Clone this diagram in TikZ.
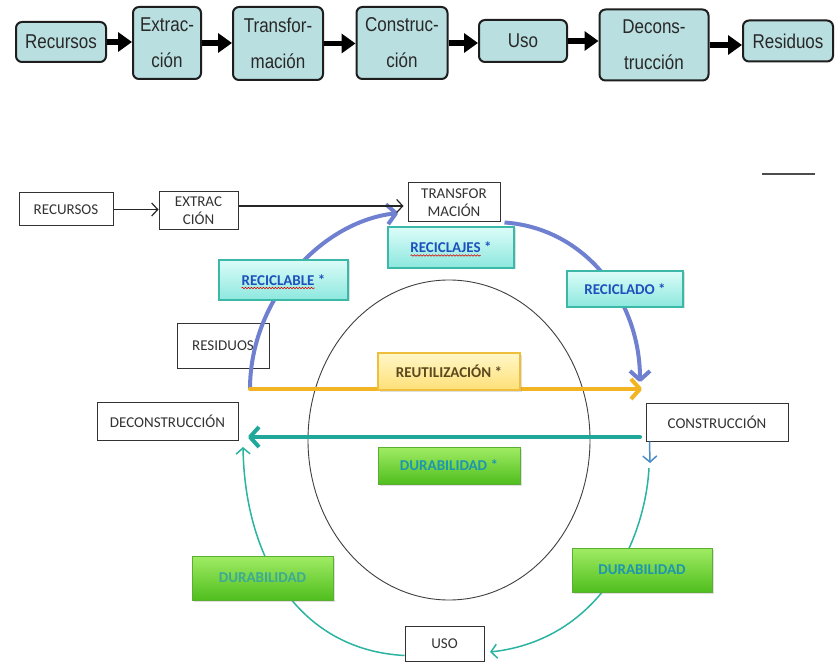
\documentclass[tikz,border=0pt]{standalone}
\usepackage{fontspec}
\setmainfont{Carlito}
\newfontfamily\topfont[FakeStretch=0.85]{Liberation Sans}
\usetikzlibrary{arrows.meta,shadows,decorations.pathmorphing}
\definecolor{topfill}{RGB}{186,223,224}
\definecolor{topline}{RGB}{30,30,30}
\definecolor{toptext}{RGB}{40,40,40}
\definecolor{cyantop}{RGB}{220,252,248}
\definecolor{cyanbot}{RGB}{140,232,222}
\definecolor{cyanline}{RGB}{60,184,168}
\definecolor{recblue}{RGB}{30,80,190}
\definecolor{greentop}{RGB}{160,236,100}
\definecolor{greenbot}{RGB}{80,190,30}
\definecolor{greenline}{RGB}{90,175,50}
\definecolor{yeltop}{RGB}{255,247,200}
\definecolor{yelbot}{RGB}{255,224,120}
\definecolor{yelline}{RGB}{238,190,60}
\definecolor{yeltext}{RGB}{90,72,30}
\definecolor{bluearc}{RGB}{112,128,208}
\definecolor{orangeln}{RGB}{242,180,34}
\definecolor{tealln}{RGB}{31,168,154}
\definecolor{thinteal}{RGB}{43,181,160}
\definecolor{midblue}{RGB}{74,140,200}
\definecolor{durtext}{RGB}{30,150,175}
\definecolor{durfade}{RGB}{60,170,150}
\begin{document}
\begin{tikzpicture}[x=1pt,y=-1pt,
  sz/.style 2 args={minimum width=#1pt,minimum height=#2pt},
  topbox/.style={draw=topline,line width=2pt,rounded corners=6pt,fill=topfill,
    inner sep=0pt,align=center,text=toptext,font=\topfont\fontsize{20}{36}\selectfont},
  toparrow/.style={line width=5.5pt,-{Triangle[length=14pt,width=19pt]}},
  plainbox/.style={draw=black!80,line width=1pt,inner sep=0pt,align=center,
    text=black!80,font=\fontsize{15}{18}\selectfont},
  shadowed/.style={drop shadow={opacity=0.25,shadow xshift=1.5pt,shadow yshift=-1.5pt}},
  cyanbox/.style={draw=cyanline,line width=1.5pt,top color=cyantop,bottom color=cyanbot,
    inner sep=0pt,text=recblue,font=\bfseries\fontsize{15}{18}\selectfont,shadowed},
  greenbox/.style={draw=greenline,line width=1pt,top color=greentop,bottom color=greenbot,
    inner sep=0pt,text=durtext,font=\bfseries\fontsize{15}{18}\selectfont,shadowed},
  yellowbox/.style={draw=yelline,line width=1.5pt,top color=yeltop,bottom color=yelbot,
    inner sep=0pt,text=yeltext,font=\bfseries\fontsize{15}{18}\selectfont,shadowed},
  thinarrow/.style={line width=1.2pt,draw=black!85,-{Straight Barb[length=6pt,width=13pt]}},
  thickarrow/.style={line width=4pt,line cap=round,-{Straight Barb[length=9pt,width=20pt,line join=round]}},
  tealarrow/.style={line width=1.5pt,draw=thinteal,-{Straight Barb[length=6pt,width=14pt]}},
  wavy/.style={draw=red!85!black,line width=0.6pt,decorate,
    decoration={snake,segment length=3pt,amplitude=0.7pt}}
]
\useasboundingbox (0,0) rectangle (836,663);
\fill[white] (0,0) rectangle (836,663);

% ---------- top row ----------
\node[topbox,sz={90}{40}] (t1) at (61,42) {Recursos};
\node[topbox,sz={68}{72}] (t2) at (167,43) {Extrac-\\ción};
\node[topbox,sz={90}{73}] (t3) at (278,43.5) {Transfor-\\mación};
\node[topbox,sz={91}{72}] (t4) at (402,43) {Construc-\\ción};
\node[topbox,sz={88}{42}] (t5) at (523,41) {Uso};
\node[topbox,sz={109}{71}] (t6) at (654,45) {Decons-\\trucción};
\node[topbox,sz={90}{41}] (t7) at (788,41) {Residuos};
\draw[toparrow] (t1.east) -- (t1.east -| t2.west);
\draw[toparrow] (t2.east) -- (t2.east -| t3.west);
\draw[toparrow] (t3.east) -- (t3.east -| t4.west);
\draw[toparrow] (t4.east) -- (t4.east -| t5.west);
\draw[toparrow] (t5.east) -- (t5.east -| t6.west);
\draw[toparrow] (t6.east) -- (t6.east -| t7.west);

% ---------- lower diagram: coordinates ----------
\coordinate (ostart) at (250,389);
\coordinate (oend) at (642,389);
\coordinate (bltip) at (398,213);
\coordinate (brtip) at (640,382);
\coordinate (tstart) at (640,437);
\coordinate (ttip) at (248,437);
\coordinate (midpt) at (650,463);
\coordinate (dctip) at (243,447);
\coordinate (usotip) at (490,652);

% central circle
\draw[black!75,line width=0.9pt] (449,440) ellipse [x radius=141pt,y radius=160pt];

% plain boxes
\node[plainbox,sz={94}{33}] (rec) at (66,209.5) {RECURSOS};
\node[plainbox,sz={79}{38}] (ext) at (198.5,211) {EXTRAC\\CIÓN};
\node[plainbox,sz={92}{39}] (tra) at (454,202.5) {TRANSFOR\\MACIÓN};
\node[plainbox,sz={92}{44}] (res) at (223,346) {RESIDUOS};
\node[plainbox,sz={141}{38}] (dec) at (167.5,421) {DECONSTRUCCIÓN};
\node[plainbox,sz={142}{38}] (con) at (717,422) {CONSTRUCCIÓN};
\node[plainbox,sz={79}{35}] (uso) at (444.5,643.5) {USO};
\coordinate (extE) at ([yshift=5pt]ext.east);

% arcs
\draw[bluearc,line width=4pt,-{Straight Barb[length=9pt,width=20pt,line join=round]}]
  (ostart) .. controls (250,300) and (320,222) .. (bltip);
\draw[bluearc,line width=4pt,-{Straight Barb[length=9pt,width=20pt,line join=round]}]
  ([shift={(4,0)}]tra.south east) .. controls (585,228) and (640,300) .. (brtip);
\draw[tealarrow] ([yshift=6pt]uso.south west) .. controls (300,650) and (245,560) .. (dctip);
\draw[midblue,line width=1.5pt,-{Straight Barb[length=6pt,width=14pt]}] ([xshift=4pt]con.south west) -- (midpt);
\draw[tealarrow] ([shift={(-1,5)}]midpt) .. controls (645,540) and (600,640) .. (usotip);

% straight connectors
\draw[thinarrow] (rec.east) -- (rec.east -| ext.west);
\draw[thinarrow,shorten >=4pt] (extE) -- (extE -| tra.west);
\draw[thickarrow,draw=orangeln] (ostart) -- (oend);
\draw[thickarrow,draw=tealln] (tstart) -- (ttip);

% coloured boxes
\node[cyanbox,sz={126}{41}] (rcj) at (451,247.5) {RECICLAJES *};
\node[cyanbox,sz={129}{40}] (rcb) at (283.5,280) {RECICLABLE *};
\node[cyanbox,sz={116}{36}] (rcd) at (625,289) {RECICLADO *};
\node[yellowbox,sz={142}{37}] (reu) at (449,371.5) {REUTILIZACIÓN *};
\node[greenbox,sz={142}{37}] (dur) at (449,465.5) {DURABILIDAD *};
\node[greenbox,sz={141}{44},text=durfade] (durl) at (262.5,578) {DURABILIDAD};
\node[greenbox,sz={140}{44}] (durr) at (642,570) {DURABILIDAD};

% spell-check underlines
\draw[wavy] ([shift={(-40.5,8)}]rcj.center) -- ([shift={(29.5,8)}]rcj.center);
\draw[wavy] ([shift={(-42,8)}]rcb.center) -- ([shift={(31,8)}]rcb.center);

% stray mark top right
\draw[black!70,line width=1.5pt] (762,174) -- (815,174);
\end{tikzpicture}
\end{document}
